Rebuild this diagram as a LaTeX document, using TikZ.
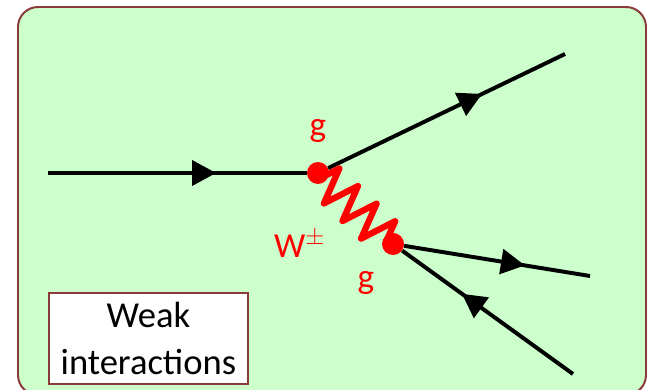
\documentclass[tikz,border=0pt]{standalone}
\usepackage{fontspec}
\setmainfont{Carlito}
\usetikzlibrary{arrows.meta,decorations.markings,decorations.pathmorphing}
\definecolor{panelgreen}{HTML}{CCFFCC}
\definecolor{panelred}{HTML}{8B3A3A}
\begin{document}
\begin{tikzpicture}[
  fermion/.style={line width=2.8pt, black, postaction={decorate},
    decoration={markings, mark=at position 0.65 with {\arrow{Triangle[length=6mm,width=6.2mm]}}}},
  boson/.style={line width=4.5pt, red, line join=round, decorate,
    decoration={zigzag, segment length=6.4mm, amplitude=4.5mm,
                pre length=1.5mm, post length=1.5mm}},
  vtx/.style={circle, fill=red, inner sep=0pt, minimum size=5.5mm},
  lbl/.style={text=red, font=\fontsize{25}{30}\selectfont}
]
  \clip (0,0) rectangle (16.175,9.725);
  \draw[panelred, line width=1.4pt, fill=panelgreen, rounded corners=0.5cm]
    (0.45,-0.15) rectangle (16.15,9.55);

  \node[vtx] (v1) at (7.95, 5.4)   {};
  \node[vtx] (v2) at (9.825, 3.625) {};
  \coordinate (qin)  at (1.2, 5.4);
  \coordinate (qup)  at (14.125, 8.375);
  \coordinate (qout) at (14.75, 2.825);
  \coordinate (qbar) at (14.325, 0.375);

  \draw[fermion] (qin) -- (v1);
  \draw[fermion] (v1) -- (qup);
  \draw[fermion] (v2) -- (qout);
  \draw[fermion] (qbar) -- (v2);
  \draw[boson] (v1.center) -- (v2.center);

  \node[lbl] (g1) at (7.95, 6.45) {g};
  \node[lbl, anchor=base] (w) at (7.49, 3.3) {W$^{\pm}$};
  \node[lbl] (g2) at (9.15, 2.64) {g};

  \node[draw=panelred, line width=1.4pt, fill=white, align=center,
        minimum width=4.975cm, minimum height=2.275cm,
        font=\fontsize{26}{33}\selectfont] (box) at (3.71, 1.26)
        {Weak\\interactions};
\end{tikzpicture}
\end{document}
